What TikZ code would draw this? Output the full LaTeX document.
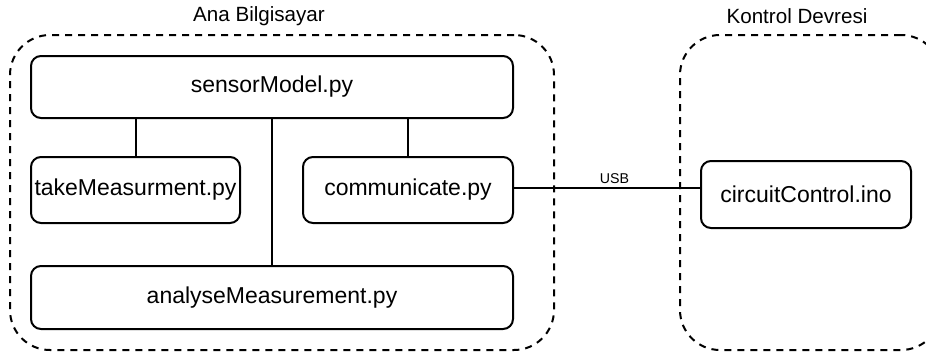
\documentclass[tikz,border=0pt]{standalone}
\usepackage{fontspec}
\setmainfont{Liberation Sans}
\begin{document}
\begin{tikzpicture}[x=1pt,y=-1pt,
  every node/.style={inner sep=0pt,outer sep=0pt},
  module/.style={draw,line width=2pt,rounded corners=10pt,fill=white,
    font=\fontsize{23}{27}\selectfont},
  group/.style={draw,line width=2pt,rounded corners=40pt,
    dash pattern=on 7pt off 6pt},
  grouptitle/.style={font=\fontsize{20.6}{24}\selectfont},
  link/.style={line width=2pt},
  linklabel/.style={font=\fontsize{14.2}{17}\selectfont}]
\useasboundingbox (0,0) rectangle (926,356);
\clip (0,0) rectangle (926,356);

% dashed groups with their titles
\node[group,minimum width=544pt,minimum height=315pt] (pc) at (282,192.5) {};
\node[grouptitle] (pctitle) at (259,16) {Ana Bilgisayar};
\node[group,minimum width=261pt,minimum height=315pt] (board) at (810.5,192.5) {};
\node[grouptitle] (boardtitle) at (797,16) {Kontrol Devresi};

% modules on the computer
\node[module,minimum width=482pt,minimum height=62pt] (sensor) at (272,87) {sensorModel.py};
\node[module,minimum width=209pt,minimum height=66pt] (take) at (135.5,190) {takeMeasurment.py};
\node[module,minimum width=210pt,minimum height=66pt] (comm) at (408,190) {communicate.py};
\node[module,minimum width=482pt,minimum height=63pt] (analyse) at (272,297.5) {analyseMeasurement.py};

% module on the control circuit
\node[module,minimum width=210pt,minimum height=67pt] (circ) at (806,194.5) {circuitControl.ino};

% connections
\draw[link] (take.north) -- (take.north |- sensor.south);
\draw[link] (comm.north) -- (comm.north |- sensor.south);
\draw[link] (sensor.south) -- (analyse.north);
\draw[link] ([yshift=2pt]comm.east) -- ([yshift=2pt]comm.east -| circ.west)
  node[linklabel,pos=0.54,above=4pt] (usb) {USB};
\end{tikzpicture}
\end{document}
